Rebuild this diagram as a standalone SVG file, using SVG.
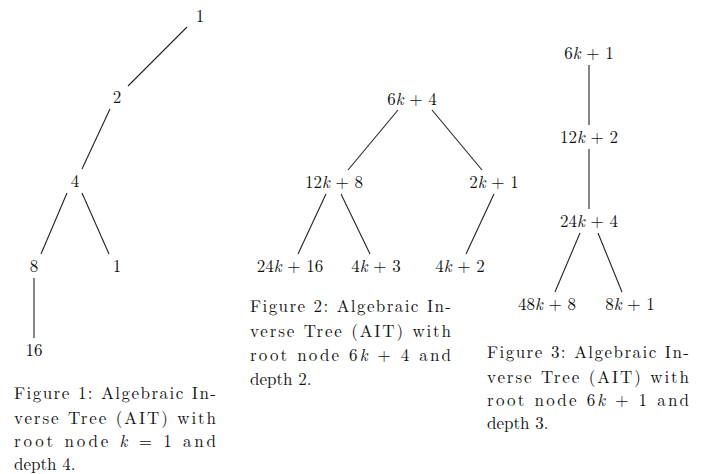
<svg xmlns="http://www.w3.org/2000/svg" width="701" height="474" viewBox="0 0 701 474">
<style>
text{font-family:"Latin Modern Roman","Liberation Serif",serif;font-size:17px;fill:#111}
.n{text-anchor:middle}
.k{font-style:italic}
line{stroke:#222;stroke-width:1.1}
</style>
<rect width="701" height="474" fill="#fff"/>
<g id="connectors">
<line x1="187" y1="27" x2="128" y2="86"/>
<line x1="110" y1="109" x2="82" y2="169"/>
<line x1="67" y1="193" x2="41" y2="254"/>
<line x1="82" y1="193" x2="109" y2="254"/>
<line x1="34" y1="278" x2="34" y2="338"/>
<line x1="398" y1="110" x2="348" y2="170"/>
<line x1="432" y1="110" x2="482" y2="170"/>
<line x1="326" y1="194" x2="298" y2="254"/>
<line x1="341" y1="194" x2="370" y2="254"/>
<line x1="494" y1="194" x2="466" y2="254"/>
<line x1="589" y1="65" x2="589" y2="125"/>
<line x1="589" y1="149" x2="589" y2="209"/>
<line x1="580" y1="233" x2="555" y2="292"/>
<line x1="598" y1="233" x2="622" y2="292"/>
</g>
<g id="f1-n1"><text class="n" x="200" y="22">1</text></g>
<g id="f1-n2"><text class="n" x="117" y="103">2</text></g>
<g id="f1-n4"><text class="n" x="75" y="187">4</text></g>
<g id="f1-n8"><text class="n" x="34" y="272">8</text></g>
<g id="f1-n1b"><text class="n" x="117" y="272">1</text></g>
<g id="f1-n16"><text class="n" x="34" y="356">16</text></g>
<g id="f2-root"><text class="n" x="412" y="105">6<tspan class="k">k</tspan> + 4</text></g>
<g id="f2-a"><text class="n" x="334" y="188">12<tspan class="k">k</tspan> + 8</text></g>
<g id="f2-b"><text class="n" x="494" y="188">2<tspan class="k">k</tspan> + 1</text></g>
<g id="f2-c"><text class="n" x="290" y="272">24<tspan class="k">k</tspan> + 16</text></g>
<g id="f2-d"><text class="n" x="376" y="272">4<tspan class="k">k</tspan> + 3</text></g>
<g id="f2-e"><text class="n" x="460" y="272">4<tspan class="k">k</tspan> + 2</text></g>
<g id="f3-root"><text class="n" x="589" y="59">6<tspan class="k">k</tspan> + 1</text></g>
<g id="f3-a"><text class="n" x="589" y="143">12<tspan class="k">k</tspan> + 2</text></g>
<g id="f3-b"><text class="n" x="589" y="227">24<tspan class="k">k</tspan> + 4</text></g>
<g id="f3-c"><text class="n" x="547" y="310">48<tspan class="k">k</tspan> + 8</text></g>
<g id="f3-d"><text class="n" x="630" y="310">8<tspan class="k">k</tspan> + 1</text></g>
<g id="caption1">
<text x="14" y="399" textLength="202" lengthAdjust="spacing">Figure 1: Algebraic In-</text>
<text x="14" y="424" textLength="202" lengthAdjust="spacing">verse Tree (AIT) with</text>
<text x="14" y="447" textLength="202" lengthAdjust="spacing">root node <tspan class="k">k</tspan> = 1 and</text>
<text x="14" y="470">depth 4.</text>
</g>
<g id="caption2">
<text x="250" y="312" textLength="201" lengthAdjust="spacing">Figure 2: Algebraic In-</text>
<text x="250" y="337" textLength="201" lengthAdjust="spacing">verse Tree (AIT) with</text>
<text x="250" y="361" textLength="201" lengthAdjust="spacing">root node 6<tspan class="k">k</tspan> + 4 and</text>
<text x="250" y="385">depth 2.</text>
</g>
<g id="caption3">
<text x="487" y="358" textLength="202" lengthAdjust="spacing">Figure 3: Algebraic In-</text>
<text x="487" y="383" textLength="202" lengthAdjust="spacing">verse Tree (AIT) with</text>
<text x="487" y="406" textLength="202" lengthAdjust="spacing">root node 6<tspan class="k">k</tspan> + 1 and</text>
<text x="487" y="429">depth 3.</text>
</g>
</svg>
